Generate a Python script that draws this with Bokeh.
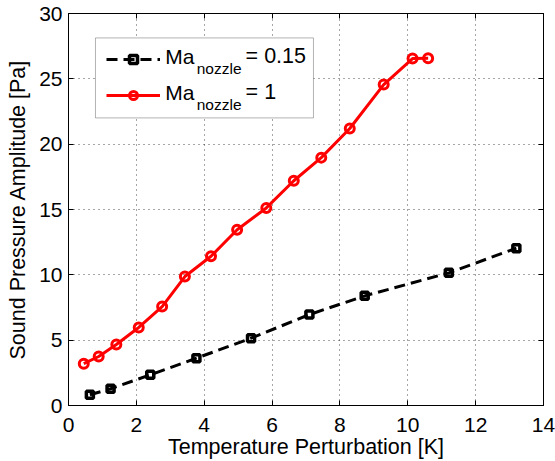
from bokeh.plotting import figure
from bokeh.models import Range1d, LinearAxis, Legend, LegendItem, Label, FixedTicker, BoxAnnotation
from bokeh.embed import file_html
from bokeh.resources import INLINE

# Data
red_x = [0.45, 0.89, 1.41, 2.07, 2.76, 3.43, 4.20, 4.97, 5.83, 6.64, 7.45, 8.29, 9.29, 10.14, 10.60]
red_y = [3.20, 3.75, 4.67, 5.97, 7.57, 9.87, 11.42, 13.45, 15.12, 17.20, 18.97, 21.20, 24.56, 26.55, 26.57]
black_x = [0.63, 1.24, 2.41, 3.77, 5.38, 7.10, 8.73, 11.21, 13.20]
black_y = [0.82, 1.28, 2.35, 3.62, 5.15, 6.96, 8.39, 10.15, 12.04]
x_ticks = [0, 2, 4, 6, 8, 10, 12, 14]
y_ticks = [0, 5, 10, 15, 20, 25, 30]
x_label = "Temperature Perturbation [K]"
y_label = "Sound Pressure Amplitude [Pa]"
legend_main = ["Ma", "Ma"]
legend_sub = ["nozzle", "nozzle"]
legend_val = ["= 0.15", "= 1"]

FONT = "Liberation Sans"

p = figure(width=555, height=461, output_backend="svg", toolbar_location=None,
           x_range=Range1d(0, 14), y_range=Range1d(0, 30),
           min_border_left=68, min_border_right=12, min_border_top=13, min_border_bottom=56)
p.outline_line_color = "black"
p.outline_line_width = 1
p.background_fill_color = "white"
p.border_fill_color = "white"

for ax in (p.xaxis[0], p.yaxis[0]):
    ax.major_label_text_font = FONT
    ax.major_label_text_font_size = "21px"
    ax.major_label_text_color = "black"
    ax.axis_label_text_font = FONT
    ax.axis_label_text_font_size = "21.5px"
    ax.axis_label_text_font_style = "normal"
    ax.axis_label_text_color = "black"
    ax.major_tick_in = 5
    ax.major_tick_out = 0
    ax.minor_tick_line_color = None
    ax.axis_line_color = "black"
    ax.major_tick_line_color = "black"

p.xaxis[0].ticker = FixedTicker(ticks=x_ticks)
p.yaxis[0].ticker = FixedTicker(ticks=y_ticks)
p.xaxis[0].axis_label = x_label
p.yaxis[0].axis_label = y_label
p.xaxis[0].major_label_standoff = 12
p.yaxis[0].major_label_standoff = 6
p.xaxis[0].axis_label_standoff = 0
p.yaxis[0].axis_label_standoff = 6

for loc, tk in (("right", y_ticks), ("above", x_ticks)):
    a = LinearAxis(ticker=FixedTicker(ticks=tk))
    a.major_label_text_font_size = "0px"
    a.major_label_standoff = 0
    a.major_tick_in = 5
    a.major_tick_out = 0
    a.minor_tick_line_color = None
    a.axis_line_color = "black"
    a.major_tick_line_color = "black"
    p.add_layout(a, loc)

p.xgrid.ticker = FixedTicker(ticks=x_ticks)
p.ygrid.ticker = FixedTicker(ticks=y_ticks)
for g in (p.xgrid[0], p.ygrid[0]):
    g.grid_line_color = "black"
    g.grid_line_alpha = 0.7
    g.grid_line_dash = "1 4"
    g.grid_line_width = 1

# series
bl = p.line(black_x, black_y, line_color="black", line_width=3, line_dash="11 6")
bs = p.scatter(black_x, black_y, marker="square", size=7, line_color="black",
               line_width=3.5, fill_color=None)
rl = p.line(red_x, red_y, line_color="red", line_width=3)
rs = p.scatter(red_x, red_y, marker="circle", size=9, line_color="red",
               line_width=3, fill_color=None)

# legend frame (drawn as a box annotation so that the texts can sit on top)
p.add_layout(BoxAnnotation(left=0.795, right=7.22, top=28.13, bottom=22.01,
                           fill_color="white", fill_alpha=1.0,
                           line_color="black", line_width=1))

legend = Legend(items=[LegendItem(label=" ", renderers=[bl, bs]),
                       LegendItem(label="  ", renderers=[rl, rs])],
                location=(38, 300), margin=0, padding=12, spacing=16,
                glyph_width=54, glyph_height=20, label_standoff=6,
                label_width=134, label_height=20,
                border_line_color=None,
                background_fill_alpha=0.0,
                label_text_font_size="14px")
p.add_layout(legend, "center")

# legend texts with subscript (anchored at the bottom of each text box)
rows_y = [25.80, 23.05]
for i in range(2):
    p.add_layout(Label(x=2.85, y=rows_y[i], text=legend_main[i], text_font=FONT,
                       text_font_size="21px", text_color="black",
                       text_baseline="bottom"))
    p.add_layout(Label(x=3.78, y=rows_y[i] - 0.65, text=legend_sub[i], text_font=FONT,
                       text_font_size="15.5px", text_color="black",
                       text_baseline="bottom"))
    p.add_layout(Label(x=5.22, y=rows_y[i], text=legend_val[i], text_font=FONT,
                       text_font_size="21.5px", text_color="black",
                       text_baseline="bottom"))

open("out.html", "w").write(file_html(p, INLINE))
